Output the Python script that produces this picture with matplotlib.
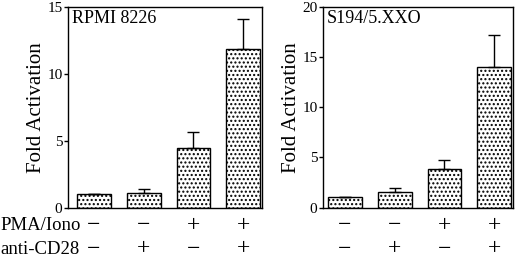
import numpy as np
import matplotlib
matplotlib.use("Agg")
import matplotlib.pyplot as plt
from matplotlib.transforms import blended_transform_factory

plt.rcParams['font.family'] = ['Liberation Serif', 'DejaVu Serif']
plt.rcParams['hatch.linewidth'] = 1.0

# --- Data ---
pma_row = ['\u2212', '\u2212', '+', '+']
cd28_row = ['\u2212', '+', '\u2212', '+']

rpmi_vals = [1.0, 1.1, 4.45, 11.9]
rpmi_err = [0.0, 0.25, 1.2, 2.2]

s194_vals = [1.0, 1.58, 3.8, 14.0]
s194_err = [0.0, 0.32, 0.95, 3.2]

fig = plt.figure(figsize=(5.2, 2.63), dpi=100)
ax1 = fig.add_axes([0.1308, 0.211, 0.3730, 0.762])
ax2 = fig.add_axes([0.6212, 0.211, 0.3654, 0.762])

panels = [
    (ax1, rpmi_vals, rpmi_err, 'RPMI 8226', 15, -0.523),
    (ax2, s194_vals, s194_err, 'S194/5.XXO', 20, -0.443),
]

x = np.arange(4)
for ax, vals, err, name, ymax, xleft in panels:
    ax.bar(x, vals, width=0.68, color='white', edgecolor='black',
           linewidth=1.0, hatch='....', zorder=2)
    ax.errorbar(x, vals, yerr=[np.zeros(4), err], fmt='none', ecolor='black',
                elinewidth=1.0, capsize=4, capthick=1.0, zorder=3)
    ax.set_xlim(xleft, 3.38)
    ax.set_ylim(0, ymax)
    ax.set_yticks(np.arange(0, ymax + 1, 5))
    ax.set_xticks([])
    ax.tick_params(axis='y', direction='out', length=3, width=1, labelsize=11, pad=1)
    for s in ax.spines.values():
        s.set_linewidth(1.0)
    ax.set_ylabel('Fold Activation', fontsize=15, labelpad=1)
    ax.text(0.02, 0.985, name, transform=ax.transAxes, fontsize=13,
            ha='left', va='top')
    tr = blended_transform_factory(ax.transData, fig.transFigure)
    for i in range(4):
        ax.text(x[i], 1 - 226 / 263, pma_row[i], transform=tr, fontsize=17,
                ha='center', va='center')
        ax.text(x[i], 1 - 249 / 263, cd28_row[i], transform=tr, fontsize=17,
                ha='center', va='center')

fig.text(0.0, 1 - 226 / 263, 'PMA/Iono', fontsize=13.5, ha='left', va='center')
fig.text(0.0, 1 - 249 / 263, 'anti-CD28', fontsize=13.5, ha='left', va='center')

fig.savefig('out.png', dpi=100)
